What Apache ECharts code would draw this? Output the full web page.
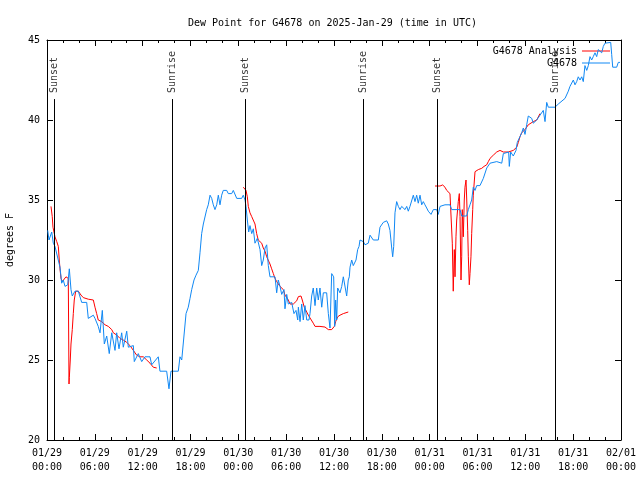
<!DOCTYPE html>
<html><head><meta charset="utf-8">
<script src="https://cdn.jsdelivr.net/npm/echarts@6/dist/echarts.min.js"></script>
<style>html,body{margin:0;padding:0;background:#fff}#c{width:640px;height:480px}</style>
</head><body><div id="c"></div>
<script>
// hours since 2025-01-29 00:00 UTC
const blueHours = [0.09,0.25,0.59,0.79,1.00,1.29,1.63,1.84,2.04,2.26,2.60,2.80,3.01,3.17,3.51,3.93,4.35,4.98,5.18,5.81,6.02,6.43,6.65,6.94,7.19,7.49,7.81,8.12,8.53,8.74,9.03,9.37,9.57,10.00,10.20,10.83,10.95,11.45,11.88,12.29,12.92,13.13,13.96,14.17,15.01,15.30,15.55,16.47,16.68,16.90,17.18,17.44,17.72,17.94,18.15,18.44,18.69,18.98,19.19,19.40,19.61,19.82,20.03,20.23,20.45,20.66,20.86,21.07,21.29,21.49,21.70,21.91,22.11,22.54,22.74,23.17,23.37,23.80,24.42,24.62,24.84,24.96,25.13,25.30,25.46,25.68,25.88,26.09,26.38,26.72,26.93,27.13,27.35,27.56,27.76,27.97,28.60,28.81,29.01,29.23,29.44,29.73,29.85,30.07,30.27,30.69,30.98,31.23,31.45,31.53,31.74,31.95,32.15,32.36,32.58,32.86,32.99,33.20,33.40,33.62,33.83,34.03,34.24,34.46,34.66,35.08,35.29,35.50,35.71,35.96,36.09,36.21,36.34,36.46,36.75,36.97,37.17,37.38,37.59,37.79,37.92,38.01,38.22,38.42,38.63,38.76,38.97,39.14,39.26,39.47,39.68,39.89,40.10,40.30,40.52,40.73,40.93,41.56,41.77,41.98,42.18,42.40,42.61,42.81,43.02,43.24,43.36,43.49,43.65,43.86,44.07,44.28,44.49,44.91,45.12,45.32,45.53,45.75,45.95,46.16,46.37,46.57,46.79,47.00,47.20,47.41,47.63,47.83,48.17,48.46,48.88,49.08,49.30,49.51,49.92,50.55,50.76,51.81,52.02,52.64,52.85,53.06,53.27,53.47,53.69,53.90,54.31,54.73,55.16,55.57,56.41,57.04,57.24,57.45,57.91,57.99,58.16,58.49,58.70,58.83,58.99,59.33,59.54,59.75,59.96,60.17,60.37,60.80,61.00,61.43,61.84,62.25,62.47,62.68,62.88,63.72,64.14,64.98,65.19,65.39,65.60,65.82,66.02,66.23,66.44,66.64,66.86,67.07,67.27,67.48,67.70,67.90,68.11,68.32,68.52,68.74,68.95,69.15,69.37,69.58,69.78,69.99,70.71,70.83,70.96,71.46,71.66,71.87];
const blueValues = [33.1,32.5,33.0,32.3,32.1,31.5,30.8,29.8,30.0,29.6,29.7,30.7,29.4,29.0,29.3,29.3,28.6,28.6,27.6,27.8,27.6,27.1,26.7,28.1,26.0,26.5,25.4,26.7,25.6,26.7,25.7,26.7,25.8,26.8,25.8,25.9,24.9,25.4,24.9,25.2,25.2,24.7,25.2,24.3,24.3,23.2,24.3,24.3,25.2,25.0,26.5,27.9,28.3,28.85,29.4,30.0,30.3,30.6,31.7,32.9,33.5,33.6,34.4,34.7,35.3,35.1,34.7,34.4,34.7,35.3,34.7,35.3,35.6,35.6,35.4,35.4,35.6,35.1,35.1,35.3,35.0,34.6,33.75,33.0,33.4,32.9,33.2,32.3,32.6,31.9,30.9,31.25,32.0,32.2,30.9,30.2,30.2,29.2,30.0,29.6,29.1,29.4,28.2,29.1,28.5,28.6,27.9,28.1,27.5,28.3,27.4,28.5,27.5,28.4,27.5,27.5,27.9,29.0,29.5,28.4,29.5,28.75,29.5,28.3,29.2,29.2,27.9,27.0,30.4,30.2,27.1,28.75,27.5,29.5,29.2,29.6,30.2,30.2,29.0,30.0,30.2,30.8,31.25,30.9,30.9,31.25,31.9,32.1,32.5,32.4,32.4,32.2,32.1,32.3,32.8,32.7,32.5,32.5,33.3,33.2,33.6,33.5,33.7,33.5,33.1,32.0,31.45,32.1,34.2,34.9,34.6,34.4,34.6,34.4,34.6,34.3,34.6,34.7,35.3,34.9,35.3,34.8,35.3,34.7,34.9,34.7,34.5,34.3,34.1,34.4,34.4,34.1,34.6,34.7,34.7,34.7,34.4,34.4,34.0,34.0,34.4,34.7,35.0,35.8,35.6,35.9,35.9,36.35,37.0,37.3,37.4,37.3,37.9,38.0,38.0,37.1,38.0,37.75,37.8,38.1,38.6,38.96,39.2,39.5,39.1,39.7,40.25,40.1,39.8,40.0,40.3,40.6,39.9,41.1,40.8,40.8,41.0,41.35,41.25,41.8,42.1,42.0,42.5,42.2,42.4,42.7,42.5,42.7,42.4,43.4,43.1,43.4,43.96,43.75,43.96,44.2,43.96,44.4,44.5,44.2,44.6,44.8,44.85,44.1,43.3,43.3,43.6,43.6];
// null value = gap in the analysis line
const redHours = [0.50,0.66,0.75,1.00,1.22,1.42,1.54,1.63,1.76,1.92,2.17,2.38,2.60,2.67,2.76,2.80,2.92,3.01,3.17,3.30,3.42,3.60,3.93,4.26,4.55,5.18,5.81,6.02,6.23,6.43,6.86,7.28,7.69,8.12,8.32,8.74,9.16,9.57,10.00,10.41,10.83,11.25,11.67,12.08,12.51,12.92,13.33,13.76,
  14.0,
  24.62,24.96,25.13,25.25,25.46,25.68,25.88,26.09,26.30,26.50,26.72,26.93,27.13,27.35,27.56,27.76,27.97,28.18,28.39,28.60,28.81,29.01,29.23,29.64,29.85,30.27,30.48,30.90,31.11,31.32,31.53,31.86,32.02,32.27,32.58,32.78,32.99,33.40,33.62,34.24,34.87,35.29,35.71,35.91,36.04,36.21,36.46,36.75,37.17,37.79,
  38.0,
  48.67,49.30,49.63,49.92,50.14,50.55,50.76,50.84,50.96,51.09,51.18,51.30,51.39,51.59,51.72,51.81,51.93,52.02,52.09,52.22,52.34,52.43,52.56,52.65,52.77,52.85,52.97,53.06,53.18,53.27,53.40,53.47,53.69,54.10,54.53,54.82,55.15,55.36,55.57,55.98,56.41,56.82,57.24,57.86,58.08,58.49,58.92,59.12,59.33,59.54,59.75,59.96,60.17,60.37,60.59,61.00,61.43,61.84];
const redValues = [34.6,33.96,33.3,32.7,32.4,32.1,31.25,30.7,30.1,29.9,30.0,30.2,30.25,30.1,23.5,23.9,25.0,26.0,26.9,27.9,28.75,29.3,29.3,29.06,28.9,28.8,28.75,28.3,27.9,27.5,27.4,27.2,27.1,26.9,26.7,26.56,26.35,26.25,26.1,25.9,25.6,25.3,25.2,25.2,25.0,24.8,24.55,24.5,
  null,
  35.8,35.6,35.2,34.6,34.2,33.96,33.85,33.5,32.9,32.5,32.4,32.3,32.0,31.8,31.45,31.35,31.0,30.7,30.4,30.1,29.9,29.8,29.6,29.4,29.06,28.75,28.5,28.5,28.6,28.7,28.96,29.0,28.75,28.3,28.0,27.8,27.7,27.3,27.1,27.1,27.06,26.9,26.9,26.9,27.1,27.4,27.7,27.8,27.9,28.0,
  null,
  35.875,35.875,35.94,35.8,35.6,35.4,35.3,32.3,29.3,31.9,30.2,32.7,33.75,34.9,35.4,33.96,30.0,31.45,34.4,32.7,35.0,35.8,36.25,35.0,33.1,31.45,29.7,30.4,31.45,32.9,34.4,35.3,36.77,36.9,36.98,37.1,37.2,37.4,37.6,37.8,38.0,38.1,38.0,38.0,37.9,38.1,38.3,38.6,38.96,39.2,39.1,39.4,39.5,39.7,39.8,39.9,40.0,40.4];
const eventHours = [0.92,15.72,24.88,39.68,48.96,63.76];
const eventLabels = ['Sunset','Sunrise','Sunset','Sunrise','Sunset','Sunrise'];
const eventLineTop = 41.31;
const tickLabels = ['01/29\n00:00','01/29\n06:00','01/29\n12:00','01/29\n18:00','01/30\n00:00','01/30\n06:00','01/30\n12:00','01/30\n18:00','01/31\n00:00','01/31\n06:00','01/31\n12:00','01/31\n18:00','02/01\n00:00'];
const titleText = 'Dew Point for G4678 on 2025-Jan-29 (time in UTC)';
const blueName = 'G4678';
const redName = 'G4678 Analysis';

const FONT = 'DejaVu Sans Mono';
const BLUE = '#1088f4';
const RED = '#ff0000';
const pair = (hs, vs) => hs.map((h, i) => [h, vs[i]]);
const txt = {fontFamily: FONT, fontSize: 10, color: '#000'};
const axisCommon = {
  axisLine: {show: true, onZero: false, lineStyle: {color: '#000', width: 1}},
  splitLine: {show: false}
};
const legendCommon = {right: 30, align: 'right', icon: 'rect', itemWidth: 28, itemHeight: 1, itemGap: 0, textStyle: txt, padding: 0};
const chart = echarts.init(document.getElementById('c'), null, {renderer: 'canvas'});
chart.setOption({
  animation: false,
  backgroundColor: '#fff',
  title: {text: titleText, left: 183, top: 13, textStyle: Object.assign({fontWeight: 'normal'}, txt)},
  legend: [
    Object.assign({data: [redName], top: 46}, legendCommon),
    Object.assign({data: [blueName], top: 58}, legendCommon)
  ],
  grid: {left: 47, right: 19, top: 40, bottom: 40, containLabel: false, outerBoundsMode: 'none'},
  xAxis: [
    Object.assign({type: 'value', min: 0, max: 72, interval: 6, position: 'bottom',
      axisTick: {show: true, inside: true, length: 6, lineStyle: {color: '#000'}},
      minorTick: {show: true, splitNumber: 3, length: 3, lineStyle: {color: '#000'}},
      axisLabel: Object.assign({formatter: v => tickLabels[Math.round(v / 6)], lineHeight: 14, margin: 6}, txt)}, axisCommon),
    Object.assign({type: 'value', min: 0, max: 72, interval: 6, position: 'top',
      axisTick: {show: true, inside: true, length: 6, lineStyle: {color: '#000'}},
      minorTick: {show: true, splitNumber: 3, length: 3, lineStyle: {color: '#000'}},
      axisLabel: {show: false}}, axisCommon)
  ],
  yAxis: [
    Object.assign({type: 'value', min: 20, max: 45, interval: 5, position: 'left',
      name: 'degrees F', nameLocation: 'middle', nameGap: 32, nameRotate: 90, nameTextStyle: txt,
      axisTick: {show: true, inside: true, length: 6, lineStyle: {color: '#000'}},
      axisLabel: Object.assign({margin: 7}, txt)}, axisCommon),
    Object.assign({type: 'value', min: 20, max: 45, interval: 5, position: 'right',
      axisTick: {show: true, inside: true, length: 6, lineStyle: {color: '#000'}},
      axisLabel: {show: false}}, axisCommon)
  ],
  series: [
    {
      type: 'scatter', name: 'events', data: eventHours.map(h => [h, eventLineTop]),
      symbolSize: 0.01, itemStyle: {color: 'rgba(0,0,0,0)'}, silent: true, z: 1,
      label: Object.assign({show: true, formatter: p => eventLabels[p.dataIndex], rotate: 90,
        position: 'top', distance: 6, align: 'left', verticalAlign: 'middle'}, txt),
      markLine: {silent: true, symbol: ['none', 'none'], label: {show: false}, animation: false,
        lineStyle: {color: '#000', width: 1, type: 'solid'},
        data: eventHours.map(h => [{coord: [h, 20]}, {coord: [h, eventLineTop]}])}
    },
    {type: 'line', name: redName, data: pair(redHours, redValues), symbol: 'none', connectNulls: false,
      lineStyle: {color: RED, width: 1}, itemStyle: {color: RED}, z: 3},
    {type: 'line', name: blueName, data: pair(blueHours, blueValues), symbol: 'none',
      lineStyle: {color: BLUE, width: 1}, itemStyle: {color: BLUE}, z: 4}
  ]
});
</script></body></html>
